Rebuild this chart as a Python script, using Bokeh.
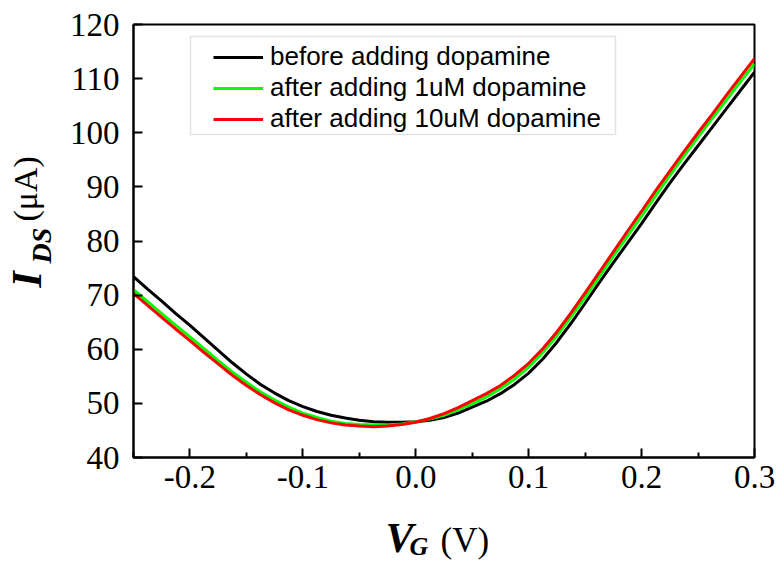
import math
from bokeh.plotting import figure
from bokeh.layouts import row, column
from bokeh.models import (FixedTicker, PrintfTickFormatter, BoxAnnotation,
                          Legend, LegendItem, Range1d)
from bokeh.core.properties import value
from bokeh.embed import file_html
from bokeh.resources import INLINE

# ---- data ----
vg = [-0.25, -0.2375, -0.225, -0.2125, -0.2, -0.1875, -0.175, -0.1625, -0.15, -0.1375,
      -0.125, -0.1125, -0.1, -0.0875, -0.075, -0.0625, -0.05, -0.0375, -0.025, -0.0125,
      0.0, 0.0125, 0.025, 0.0375, 0.05, 0.0625, 0.075, 0.0875, 0.1, 0.1125,
      0.125, 0.1375, 0.15, 0.1625, 0.175, 0.1875, 0.2, 0.2125, 0.225, 0.2375,
      0.25, 0.2625, 0.275, 0.2875, 0.3]
i_before = [73.4, 71.1, 68.9, 66.6, 64.4, 62.1, 59.8, 57.5, 55.4, 53.5,
            51.9, 50.5, 49.4, 48.5, 47.8, 47.3, 46.9, 46.6, 46.5, 46.5,
            46.6, 46.9, 47.4, 48.2, 49.3, 50.4, 51.8, 53.5, 55.6, 58.2,
            61.3, 64.8, 68.5, 72.3, 76.0, 79.6, 83.2, 87.0, 90.7, 94.2,
            97.6, 101.0, 104.4, 107.8, 111.2]
i_1uM = [71.0, 68.8, 66.6, 64.4, 62.3, 60.1, 57.9, 55.8, 53.9, 52.1,
         50.6, 49.3, 48.2, 47.4, 46.7, 46.3, 46.1, 46.0, 46.0, 46.2,
         46.6, 47.1, 47.8, 48.8, 49.9, 51.2, 52.7, 54.5, 56.7, 59.4,
         62.5, 66.0, 69.6, 73.4, 77.2, 80.9, 84.6, 88.4, 92.1, 95.7,
         99.2, 102.6, 106.0, 109.4, 112.7]
i_10uM = [70.3, 68.1, 65.9, 63.7, 61.6, 59.4, 57.3, 55.2, 53.3, 51.6,
          50.1, 48.8, 47.8, 47.0, 46.4, 46.0, 45.8, 45.7, 45.8, 46.1,
          46.5, 47.2, 48.1, 49.2, 50.5, 51.8, 53.3, 55.2, 57.4, 60.1,
          63.2, 66.7, 70.4, 74.2, 78.0, 81.8, 85.5, 89.3, 92.9, 96.5,
          100.0, 103.4, 106.9, 110.3, 113.7]
series_labels = ["before adding dopamine", "after adding 1uM dopamine",
                 "after adding 10uM dopamine"]
series_colors = ["#000000", "#00ff00", "#ff0000"]
x_ticks = [-0.2, -0.1, 0.0, 0.1, 0.2, 0.3]
x_minor_ticks = [-0.25, -0.15, -0.05, 0.05, 0.15, 0.25]
y_ticks = [40, 50, 60, 70, 80, 90, 100, 110, 120]

SERIF = "Liberation Serif"

# ---- main plot ----
p = figure(width=719, height=510, x_range=Range1d(-0.25, 0.3), y_range=Range1d(40, 120),
           output_backend="svg", toolbar_location=None, frame_align=False,
           min_border_left=76, min_border_right=22, min_border_top=24, min_border_bottom=53)
p.background_fill_color = "white"
p.border_fill_color = "white"
p.grid.visible = False
p.outline_line_color = "black"
p.outline_line_width = 2
p.outline_line_alpha = 1

for ax in (p.xaxis[0], p.yaxis[0]):
    ax.axis_line_width = 2
    ax.axis_line_color = "black"
    ax.major_tick_in = 9
    ax.major_tick_out = 0
    ax.minor_tick_in = 5
    ax.minor_tick_out = 0
    ax.major_tick_line_width = 2
    ax.minor_tick_line_width = 2
    ax.major_label_text_font = SERIF
    ax.major_label_text_font_size = "33px"
    ax.major_label_text_color = "black"

p.xaxis.ticker = FixedTicker(ticks=x_ticks, minor_ticks=x_minor_ticks)
p.xaxis.formatter = PrintfTickFormatter(format="%.1f")
p.xaxis.major_label_standoff = 8
p.yaxis.ticker = FixedTicker(ticks=y_ticks, minor_ticks=[])
p.yaxis.formatter = PrintfTickFormatter(format="%d")
p.yaxis.major_label_standoff = 14
p.yaxis.minor_tick_line_color = None

renderers = []
for ys, col in zip([i_before, i_1uM, i_10uM], series_colors):
    r = p.line(vg, ys, line_color=col, line_width=3)
    renderers.append(r)

# legend frame (screen units relative to the plot frame)
p.add_layout(BoxAnnotation(left=57, right=482, top=421, bottom=323,
                           left_units="screen", right_units="screen",
                           top_units="screen", bottom_units="screen",
                           fill_alpha=0, line_color="#a0a0a0", line_width=1.5))

legend = Legend(items=[LegendItem(label=l, renderers=[r]) for l, r in zip(series_labels, renderers)],
                location=(80, 323), padding=0, spacing=0, margin=0,
                glyph_width=50, glyph_height=30, label_standoff=7,
                label_text_font="Liberation Sans", label_text_font_size="26px",
                label_text_color="black",
                border_line_alpha=0, background_fill_alpha=0)
p.add_layout(legend)


def label_fig(w, h):
    f = figure(width=w, height=h, x_range=Range1d(0, w), y_range=Range1d(0, h),
               output_backend="svg", toolbar_location=None, frame_align=False,
               x_axis_type=None, y_axis_type=None,
               min_border_left=0, min_border_right=0, min_border_top=0, min_border_bottom=0)
    f.grid.visible = False
    f.outline_line_color = None
    f.background_fill_color = "white"
    f.border_fill_color = "white"
    return f


# ---- y-axis title: I_DS (μA) ----
ylab = label_fig(57, 563)
ylab.text(x=[26], y=[276], text=["I"], angle=math.pi / 2, text_font=value(SERIF),
          text_font_style="bold italic", text_font_size=value("42px"),
          text_align="left", text_baseline="alphabetic", text_color="black")
ylab.text(x=[41], y=[300], text=["DS"], angle=math.pi / 2, text_font=value(SERIF),
          text_font_style="bold italic", text_font_size=value("28px"),
          text_align="left", text_baseline="alphabetic", text_color="black")
ylab.text(x=[25], y=[342], text=["(μA)"], angle=math.pi / 2, text_font=value(SERIF),
          text_font_style="normal", text_font_size=value("34px"),
          text_align="left", text_baseline="alphabetic", text_color="black")

# ---- x-axis title: V_G (V) ----
xlab = label_fig(719, 53)
xlab.text(x=[328], y=[26], text=["V"], text_font=value(SERIF),
          text_font_style="bold italic", text_font_size=value("42px"),
          text_align="left", text_baseline="alphabetic", text_color="black")
xlab.text(x=[352], y=[17], text=["G"], text_font=value(SERIF),
          text_font_style="bold italic", text_font_size=value("26px"),
          text_align="left", text_baseline="alphabetic", text_color="black")
xlab.text(x=[383], y=[23], text=["(V)"], text_font=value(SERIF),
          text_font_style="normal", text_font_size=value("35px"),
          text_align="left", text_baseline="alphabetic", text_color="black")

layout = row(ylab, column(p, xlab, spacing=0), spacing=0)
open("out.html", "w").write(file_html(layout, INLINE))
